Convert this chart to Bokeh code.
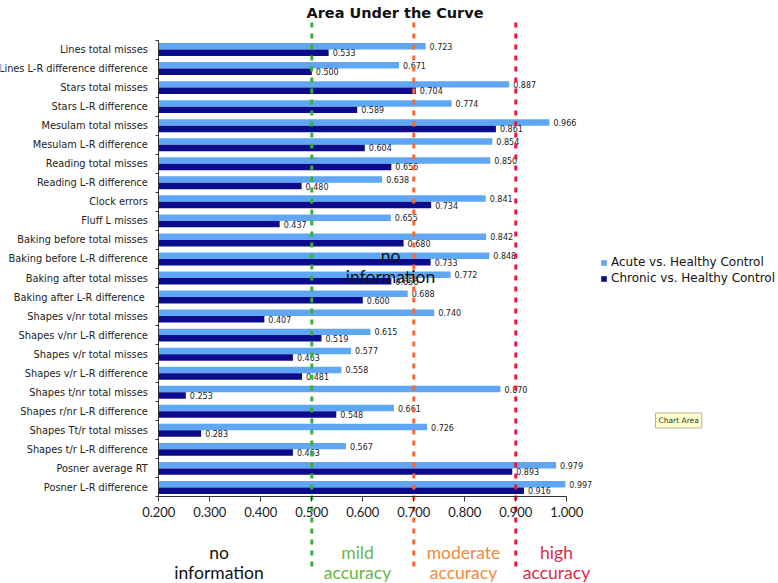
import numpy as np
from bokeh.plotting import figure
from bokeh.models import (ColumnDataSource, FixedTicker, NumeralTickFormatter,
                          Legend, LegendItem, Label, Range1d)
from bokeh.core.properties import value
from bokeh.embed import file_html
from bokeh.resources import INLINE

# ---------------- data ----------------
categories = [
    "Lines total misses",
    "Lines L-R difference difference",
    "Stars total misses",
    "Stars L-R difference",
    "Mesulam total misses",
    "Mesulam L-R difference",
    "Reading total misses",
    "Reading L-R difference",
    "Clock errors",
    "Fluff L misses",
    "Baking before total misses",
    "Baking before L-R difference",
    "Baking after total misses",
    "Baking  after L-R difference",
    "Shapes v/nr total misses",
    "Shapes v/nr L-R difference",
    "Shapes v/r total misses",
    "Shapes v/r L-R difference",
    "Shapes t/nr total misses",
    "Shapes r/nr L-R difference",
    "Shapes Tt/r total misses",
    "Shapes t/r L-R difference",
    "Posner average RT",
    "Posner L-R difference",
]
acute = [0.723, 0.671, 0.887, 0.774, 0.966, 0.854, 0.850, 0.638, 0.841, 0.655,
         0.842, 0.848, 0.772, 0.688, 0.740, 0.615, 0.577, 0.558, 0.870, 0.661,
         0.726, 0.567, 0.979, 0.997]
chronic = [0.533, 0.500, 0.704, 0.589, 0.861, 0.604, 0.656, 0.480, 0.734, 0.437,
           0.680, 0.733, 0.656, 0.600, 0.407, 0.519, 0.463, 0.481, 0.253, 0.548,
           0.283, 0.463, 0.893, 0.916]
series_names = ["Acute vs. Healthy Control", "Chronic vs. Healthy Control"]
x_ticks = [0.2, 0.3, 0.4, 0.5, 0.6, 0.7, 0.8, 0.9, 1.0]
thresholds = [0.5, 0.7, 0.9]
zone_top = ["no", "mild", "moderate", "high"]
zone_bottom = ["information", "accuracy", "accuracy", "accuracy"]
title_text = "Area Under the Curve"

# ---------------- layout (page pixel geometry) ----------------
W, H = 778, 583
PX = 510.0               # px per unit on x
X0_PAGE = 158.3          # page x of value 0.2
ROW = 19.04              # px per category row
ROWS_TOP_PAGE = 39.5     # page y of top of first row

n = len(categories)
top_val = n - 0.5
x_start = x_ticks[0] - X0_PAGE / PX
x_end = x_ticks[0] + (W - X0_PAGE) / PX
y_end = top_val + ROWS_TOP_PAGE / ROW
y_start = top_val - (H - ROWS_TOP_PAGE) / ROW


def px_to_x(px):
    return x_ticks[0] + (px - X0_PAGE) / PX


def py_to_y(py):
    return top_val - (py - ROWS_TOP_PAGE) / ROW


LIGHT = "#5fa7f4"
DARK = "#0b0b8c"
LINE_COLORS = ["#3cae3c", "#f26b3a", "#e8163c"]
ZONE_COLORS = ["#111111", "#66b84a", "#f5883a", "#e0284a"]
ZONE_X = [px_to_x(218.5), px_to_x(357), px_to_x(463), px_to_x(556)]

centers = np.arange(n)[::-1].astype(float)          # first category at top
bounds = np.arange(n + 1) - 0.5
BAR_H = 0.34

p = figure(width=W, height=H, x_range=Range1d(x_start, x_end),
           y_range=Range1d(y_start, y_end), output_backend="svg",
           toolbar_location=None, min_border_left=0, min_border_right=0,
           min_border_top=0, min_border_bottom=0)
p.outline_line_color = None
p.grid.visible = False
p.background_fill_color = "white"

# x axis, placed at bottom of the category rows
xa = p.xaxis[0]
xa.fixed_location = float(bounds[0])
xa.bounds = (x_ticks[0], x_ticks[-1])
xa.ticker = FixedTicker(ticks=x_ticks)
xa.formatter = NumeralTickFormatter(format="0.000")
xa.major_tick_out = 5
xa.major_tick_in = 0
xa.minor_tick_out = 0
xa.minor_tick_in = 0
xa.major_label_standoff = 5
xa.major_label_text_font = "Lato"
xa.major_label_text_font_size = "13px"
xa.major_label_text_color = "#222222"
xa.axis_line_color = "#333333"
xa.major_tick_line_color = "#333333"

# y axis, placed at x = 0.2
ya = p.yaxis[0]
ya.fixed_location = x_ticks[0]
ya.bounds = (float(bounds[0]), float(bounds[-1]))
ya.ticker = FixedTicker(ticks=list(centers), minor_ticks=list(bounds))
ya.major_label_overrides = {int(c): name for c, name in zip(centers, categories)}
ya.major_tick_out = 0
ya.major_tick_in = 0
ya.minor_tick_out = 3
ya.minor_tick_in = 0
ya.major_label_standoff = 8
ya.major_label_text_font = "DejaVu Sans"
ya.major_label_text_font_size = "9.8px"
ya.major_label_text_color = "#222222"
ya.axis_line_color = "#333333"
ya.minor_tick_line_color = "#333333"

src = ColumnDataSource(dict(
    y_a=centers + BAR_H / 2, y_c=centers - BAR_H / 2,
    acute=acute, chronic=chronic,
    acute_txt=[f"{v:.3f}" for v in acute],
    chronic_txt=[f"{v:.3f}" for v in chronic],
))

r_a = p.hbar(y="y_a", height=BAR_H, left=x_ticks[0], right="acute", source=src,
             fill_color=LIGHT, line_color=None)
r_c = p.hbar(y="y_c", height=BAR_H, left=x_ticks[0], right="chronic", source=src,
             fill_color=DARK, line_color=None)

for col, ycol in (("acute", "y_a"), ("chronic", "y_c")):
    p.text(x=col, y=ycol, text=col + "_txt", source=src, x_offset=4,
           text_baseline="middle", text_align="left",
           text_font=value("DejaVu Sans"), text_font_size="8px",
           text_color="#222222")

# threshold dashed lines
p.segment(x0=thresholds, x1=thresholds,
          y0=[py_to_y(22)] * len(thresholds), y1=[py_to_y(566)] * len(thresholds),
          line_color=LINE_COLORS, line_width=3, line_dash="5 6")

# zone captions below axis
p.text(x=ZONE_X, y=[py_to_y(551.7)] * len(ZONE_X), text=zone_top,
       text_color=ZONE_COLORS, text_align="center", text_baseline="middle",
       text_font=value("Lato"), text_font_size="17.5px")
p.text(x=ZONE_X, y=[py_to_y(571.7)] * len(ZONE_X), text=zone_bottom,
       text_color=ZONE_COLORS, text_align="center", text_baseline="middle",
       text_font=value("Lato"), text_font_size="17.5px")

# stray text box in the middle of the chart
p.text(x=[px_to_x(390)] * 2, y=[py_to_y(255), py_to_y(276)],
       text=[zone_top[0], zone_bottom[0]],
       text_color="#111111", text_align="center", text_baseline="middle",
       text_font=value("Lato"), text_font_size="17.5px")

# title
p.text(x=[px_to_x(394.5)], y=[py_to_y(12.5)], text=[title_text],
       text_align="center", text_baseline="alphabetic", text_font=value("DejaVu Sans"),
       text_font_style="bold", text_font_size="14.5px", text_color="#111111")

# legend
legend = Legend(items=[LegendItem(label=series_names[0], renderers=[r_a]),
                       LegendItem(label=series_names[1], renderers=[r_c])],
                location=(600, H - 285),
                orientation="vertical", padding=0, margin=0, spacing=2,
                glyph_width=7, glyph_height=7, label_height=14,
                label_standoff=4, label_text_font="DejaVu Sans",
                label_text_font_size="12px", label_text_color="#111111",
                border_line_color=None, background_fill_alpha=0)
p.add_layout(legend)

# "Chart Area" tooltip
p.add_layout(Label(x=px_to_x(655), y=py_to_y(420), text="Chart Area",
                   text_font="DejaVu Sans", text_font_size="7.5px",
                   text_color="#333333", text_baseline="middle",
                   background_fill_color="#ffffcc", border_line_color="#b5b59a",
                   padding=3))

open("out.html", "w").write(file_html(p, INLINE))
